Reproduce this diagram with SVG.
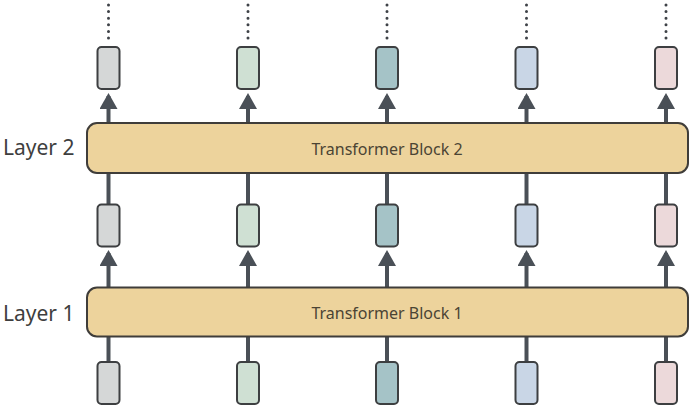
<svg xmlns="http://www.w3.org/2000/svg" width="690" height="405" viewBox="0 0 690 405">
<style>
.conn{stroke:#4a5057;stroke-width:4;fill:none}
.dots{stroke:#3e4247;stroke-width:3;stroke-linecap:round;stroke-dasharray:0 6.6;fill:none}
.tok{stroke:#3d3f41;stroke-width:2}
.c1{fill:#d5d7d7}.c2{fill:#cfe0d3}.c3{fill:#a5c3c7}.c4{fill:#c9d6e6}.c5{fill:#ecd9da}
.blk{fill:#edd39c;stroke:#3f3d3a;stroke-width:2}
.bt{font-family:"Noto Sans","DejaVu Sans",sans-serif;font-size:16px;fill:#4b4434;text-anchor:middle}
.lt{font-family:"Noto Sans","DejaVu Sans",sans-serif;font-size:21px;fill:#3e3e3e}
</style>
<defs>
<marker id="ah" viewBox="0 0 16 18" markerWidth="16" markerHeight="18" markerUnits="userSpaceOnUse" refX="13" refY="9" orient="auto">
<path d="M0,0 L16,9 L0,18 z" fill="#4a5057"/>
</marker>
</defs>
<g id="connectors">
<g id="dotted">
<line class="dots" x1="108.5" y1="5" x2="108.5" y2="38"/>
<line class="dots" x1="248" y1="5" x2="248" y2="38"/>
<line class="dots" x1="387" y1="5" x2="387" y2="38"/>
<line class="dots" x1="526.5" y1="5" x2="526.5" y2="38"/>
<line class="dots" x1="666" y1="5" x2="666" y2="38"/>
</g>
<g id="arrows-top">
<line class="conn" x1="108.5" y1="124" x2="108.5" y2="96" marker-end="url(#ah)"/>
<line class="conn" x1="248" y1="124" x2="248" y2="96" marker-end="url(#ah)"/>
<line class="conn" x1="387" y1="124" x2="387" y2="96" marker-end="url(#ah)"/>
<line class="conn" x1="526.5" y1="124" x2="526.5" y2="96" marker-end="url(#ah)"/>
<line class="conn" x1="666" y1="124" x2="666" y2="96" marker-end="url(#ah)"/>
</g>
<g id="lines-mid">
<line class="conn" x1="108.5" y1="172" x2="108.5" y2="205"/>
<line class="conn" x1="248" y1="172" x2="248" y2="205"/>
<line class="conn" x1="387" y1="172" x2="387" y2="205"/>
<line class="conn" x1="526.5" y1="172" x2="526.5" y2="205"/>
<line class="conn" x1="666" y1="172" x2="666" y2="205"/>
</g>
<g id="arrows-mid">
<line class="conn" x1="108.5" y1="288" x2="108.5" y2="253" marker-end="url(#ah)"/>
<line class="conn" x1="248" y1="288" x2="248" y2="253" marker-end="url(#ah)"/>
<line class="conn" x1="387" y1="288" x2="387" y2="253" marker-end="url(#ah)"/>
<line class="conn" x1="526.5" y1="288" x2="526.5" y2="253" marker-end="url(#ah)"/>
<line class="conn" x1="666" y1="288" x2="666" y2="253" marker-end="url(#ah)"/>
</g>
<g id="lines-bottom">
<line class="conn" x1="108.5" y1="336" x2="108.5" y2="363"/>
<line class="conn" x1="248" y1="336" x2="248" y2="363"/>
<line class="conn" x1="387" y1="336" x2="387" y2="363"/>
<line class="conn" x1="526.5" y1="336" x2="526.5" y2="363"/>
<line class="conn" x1="666" y1="336" x2="666" y2="363"/>
</g>
</g>
<g id="block2">
<rect class="blk" x="87" y="123" width="601" height="50" rx="10"/>
<text class="bt" x="387" y="155">Transformer Block 2</text>
</g>
<g id="block1">
<rect class="blk" x="87" y="287.5" width="601" height="49" rx="10"/>
<text class="bt" x="387" y="318.5">Transformer Block 1</text>
</g>
<g id="label-layer2"><text class="lt" x="3" y="155">Layer 2</text></g>
<g id="label-layer1"><text class="lt" x="3" y="320.5">Layer 1</text></g>
<g id="tokens-top">
<rect class="tok c1" x="97.5" y="47" width="22" height="42" rx="4"/>
<rect class="tok c2" x="237" y="47" width="22" height="42" rx="4"/>
<rect class="tok c3" x="376" y="47" width="22" height="42" rx="4"/>
<rect class="tok c4" x="515.5" y="47" width="22" height="42" rx="4"/>
<rect class="tok c5" x="655" y="47" width="22" height="42" rx="4"/>
</g>
<g id="tokens-mid">
<rect class="tok c1" x="97.5" y="204.5" width="22" height="42" rx="4"/>
<rect class="tok c2" x="237" y="204.5" width="22" height="42" rx="4"/>
<rect class="tok c3" x="376" y="204.5" width="22" height="42" rx="4"/>
<rect class="tok c4" x="515.5" y="204.5" width="22" height="42" rx="4"/>
<rect class="tok c5" x="655" y="204.5" width="22" height="42" rx="4"/>
</g>
<g id="tokens-bottom">
<rect class="tok c1" x="97.5" y="362" width="22" height="42" rx="4"/>
<rect class="tok c2" x="237" y="362" width="22" height="42" rx="4"/>
<rect class="tok c3" x="376" y="362" width="22" height="42" rx="4"/>
<rect class="tok c4" x="515.5" y="362" width="22" height="42" rx="4"/>
<rect class="tok c5" x="655" y="362" width="22" height="42" rx="4"/>
</g>
</svg>
